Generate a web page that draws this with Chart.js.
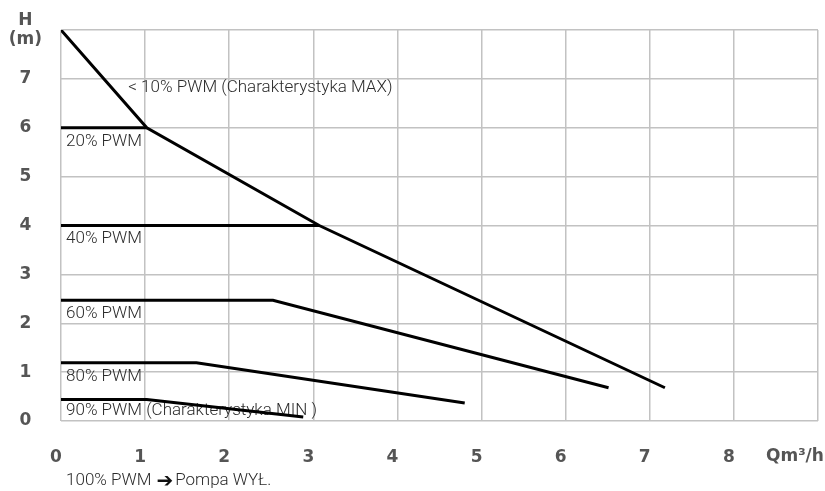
<!DOCTYPE html>
<html><head><meta charset="utf-8">
<script src="https://cdn.jsdelivr.net/npm/chart.js@4/dist/chart.umd.min.js"></script>
<style>html,body{margin:0;padding:0;background:#fff;overflow:hidden}#wrap{width:825px;height:491px;position:relative}</style>
</head><body><div id="wrap"><canvas id="c" width="825" height="491"></canvas></div>
<script>
// ---- data ----
const xTicks = [0, 1, 2, 3, 4, 5, 6, 7, 8, 9];
const yTicks = [0, 1, 2, 3, 4, 5, 6, 7, 8];
const xAxisTitle = 'Qm³/h';
const yAxisTitle = ['H', '(m)'];
const seriesNames = ['< 10% PWM (Charakterystyka MAX)', '20% PWM', '40% PWM', '60% PWM', '80% PWM', '90% PWM (Charakterystyka MIN )'];
const footnoteParts = ['100% PWM', '\u2794', 'Pompa WYŁ.'];

const maxQ = [0, 1.02, 3.07, 7.18];
const maxH = [8.0, 6.0, 4.0, 0.68];
const pwm20Q = [0, 1.02];
const pwm20H = [6.0, 6.0];
const pwm40Q = [0, 3.07];
const pwm40H = [4.0, 4.0];
const pwm60Q = [0, 2.52, 6.51];
const pwm60H = [2.47, 2.47, 0.68];
const pwm80Q = [0, 1.61, 4.80];
const pwm80H = [1.19, 1.19, 0.37];
const pwm90Q = [0, 1.02, 2.88];
const pwm90H = [0.44, 0.44, 0.08];

// ---- presentation ----
const seriesQ = [maxQ, pwm20Q, pwm40Q, pwm60Q, pwm80Q, pwm90Q];
const seriesH = [maxH, pwm20H, pwm40H, pwm60H, pwm80H, pwm90H];
const labelAnchors = [[0.80, 6.81], [0.06, 5.71], [0.06, 3.73], [0.06, 2.20], [0.06, 0.90], [0.06, 0.21]];
const footAnchor = [0.06, -1.22];
const gridColor = '#c2c2c2';
const tickFont = {family: 'DejaVu Sans', weight: 'bold', size: 17, lineHeight: 1.15};
const labelFont = '300 17px Roboto, "Liberation Sans", sans-serif';

const datasets = seriesNames.map((name, i) => ({
  label: name,
  data: seriesQ[i].map((q, j) => ({x: q, y: seriesH[i][j]})),
  borderColor: '#000',
  borderWidth: 3,
  pointRadius: 0,
  showLine: true,
  fill: false,
  tension: 0
}));

const textPlugin = {
  id: 'texts',
  beforeDatasetsDraw(chart) {
    const {ctx, scales: {x, y}} = chart;
    ctx.save();
    ctx.font = labelFont;
    ctx.fillStyle = '#2b2b2b';
    ctx.textAlign = 'left';
    ctx.textBaseline = 'middle';
    seriesNames.forEach((t, i) => {
      ctx.fillText(t, x.getPixelForValue(labelAnchors[i][0]), y.getPixelForValue(labelAnchors[i][1]));
    });
    ctx.restore();
  },
  afterDraw(chart) {
    const {ctx, scales: {x, y}} = chart;
    ctx.save();
    ctx.fillStyle = '#2b2b2b';
    ctx.textAlign = 'left';
    ctx.textBaseline = 'middle';
    let px = x.getPixelForValue(footAnchor[0]);
    const py = y.getPixelForValue(footAnchor[1]);
    ctx.font = labelFont;
    ctx.fillText(footnoteParts[0], px, py);
    px += ctx.measureText(footnoteParts[0]).width + 5;
    ctx.font = '20px "DejaVu Sans"';
    ctx.fillStyle = '#111';
    ctx.fillText(footnoteParts[1], px, py + 1);
    px += ctx.measureText(footnoteParts[1]).width + 2;
    ctx.font = labelFont;
    ctx.fillStyle = '#2b2b2b';
    ctx.fillText(footnoteParts[2], px, py);
    ctx.font = 'bold 17px "DejaVu Sans"';
    ctx.fillStyle = '#555';
    ctx.fillText(xAxisTitle, 766, 457);
    ctx.restore();
  }
};

const noPad = ax => { ax.paddingTop = 0; ax.paddingBottom = 0; ax.paddingLeft = 0; ax.paddingRight = 0; };

new Chart(document.getElementById('c'), {
  type: 'scatter',
  data: {datasets},
  plugins: [textPlugin],
  options: {
    responsive: false,
    devicePixelRatio: 1,
    animation: false,
    layout: {padding: {top: 30, right: 7, left: 0, bottom: 0}},
    plugins: {legend: {display: false}, tooltip: {enabled: false}},
    scales: {
      x: {
        type: 'linear', min: 0, max: 9,
        afterBuildTicks: ax => { ax.ticks = xTicks.map(v => ({value: v})); },
        grid: {color: gridColor, lineWidth: 1.5, drawTicks: false},
        border: {display: false},
        ticks: {padding: 27, labelOffset: -5, color: '#555', font: tickFont, maxRotation: 0,
          callback: v => v === 9 ? '' : String(v)},
        afterFit: ax => { ax.height = 70; noPad(ax); }
      },
      y: {
        type: 'linear', min: 0, max: 8,
        afterBuildTicks: ax => { ax.ticks = yTicks.map(v => ({value: v})); },
        grid: {color: gridColor, lineWidth: 1.5, drawTicks: false},
        border: {display: false},
        ticks: {padding: 19, crossAlign: 'center', color: '#555', font: tickFont,
          callback: v => v === 8 ? yAxisTitle : String(v)},
        afterFit: ax => { ax.width = 61; noPad(ax); }
      }
    }
  }
});
</script>
</body></html>
